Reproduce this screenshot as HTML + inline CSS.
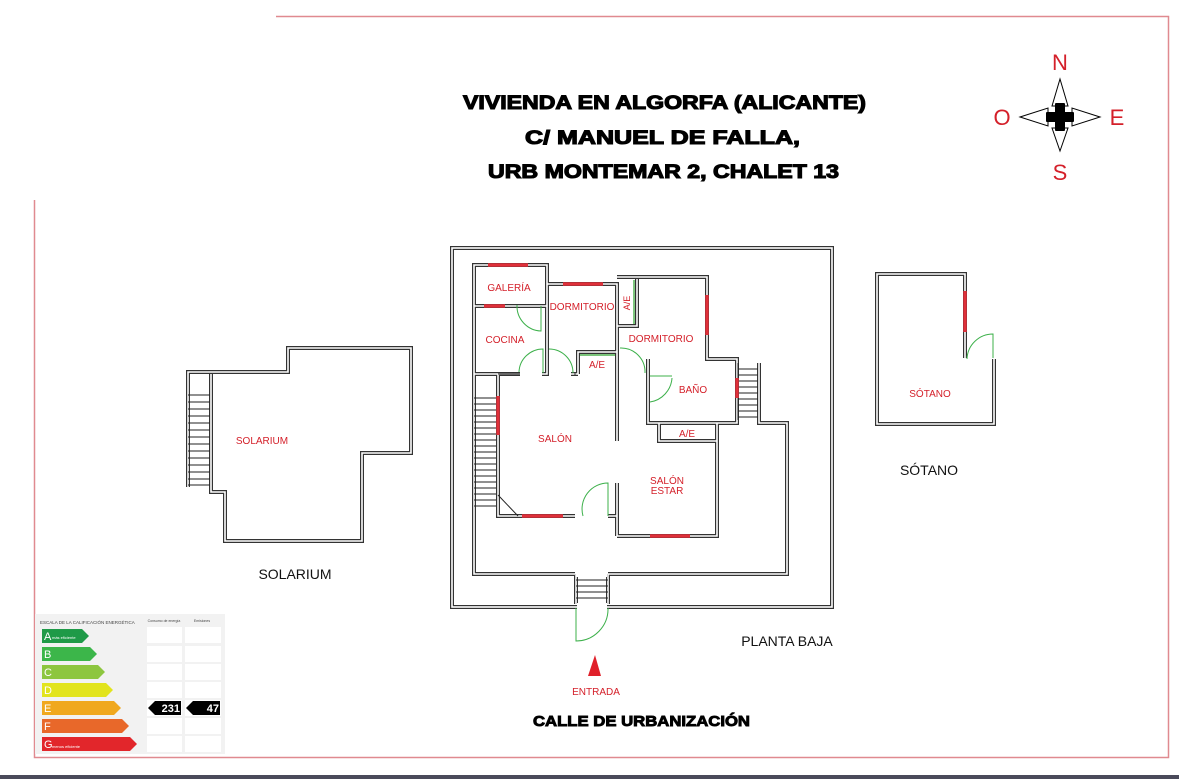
<!DOCTYPE html>
<html><head><meta charset="utf-8"><style>
html,body{margin:0;padding:0;background:#fff;}
svg{display:block;}
.t{font-family:"Liberation Sans",sans-serif;}
.r{font-family:"Liberation Sans",sans-serif;fill:#d4202a;font-size:10px;}
</style></head><body>
<svg width="1179" height="779" viewBox="0 0 1179 779" xmlns="http://www.w3.org/2000/svg">
<rect width="1179" height="779" fill="#fff"/>
<path d="M276 16.5 H1168.5 V757.5 H34.5 V200" fill="none" stroke="#e08a90" stroke-width="1.5"/>
<rect x="0" y="775" width="1179" height="4" fill="#4a4a5a"/>

<g class="t" font-weight="bold" font-size="19" fill="#000" stroke="#000" stroke-width="1.1">
<text x="463" y="109" textLength="403" lengthAdjust="spacingAndGlyphs">VIVIENDA EN ALGORFA (ALICANTE)</text>
<text x="525" y="144" textLength="275" lengthAdjust="spacingAndGlyphs">C/ MANUEL DE FALLA,</text>
<text x="488" y="178" textLength="351" lengthAdjust="spacingAndGlyphs">URB MONTEMAR 2, CHALET 13</text>
</g>

<g class="t" font-size="22" fill="#d4202a" text-anchor="middle">
<text x="1060" y="70">N</text><text x="1002" y="125">O</text><text x="1117" y="125">E</text><text x="1060" y="180">S</text>
</g>
<g fill="#fff" stroke="#000" stroke-width="1">
<path d="M1060 79 L1068 106 L1052 106 Z"/><path d="M1060 151 L1068 128 L1052 128 Z"/>
<path d="M1020 117 L1048 108 L1048 126 Z"/><path d="M1100 117 L1072 108 L1072 126 Z"/>
</g>
<path d="M1056 104 h8 v9 h9 v8 h-9 v9 h-8 v-9 h-9 v-8 h9 z" fill="#000" stroke="#000" stroke-width="2" stroke-linejoin="round"/>

<defs>
<g id="walls">
<rect x="452" y="248" width="380" height="359"/>
<path d="M575 574 H474 V265 H547 V374 H474 M474 306 H547 M547 284 H617 V441 M617 277 H707 V359 H737 V423 H648 V359 M617 326 H637 V279 M578 374 V352 H617 M498 374 V516 H575 M608 516 H617 V483 M617 536 H717 V441 H659 V423 M717 423 V441 M608 574 H787 V423 H759 V363 M617 536 V516 M498 374 H520 M570 374 H578"/>
<path d="M576 574 V604 M608 574 V604"/>
<path d="M188 487 V372 H288 V348 H411 V453 H362 V541 H225 V492 H211 V374"/>
<path d="M965 358 V274 H877 V424 H994 V359"/>
</g>
</defs>
<g fill="none" stroke="#333" stroke-width="4"><use href="#walls"/></g>
<g fill="none" stroke="#fff" stroke-width="1.6"><use href="#walls"/></g>
<rect x="577" y="603" width="30" height="8" fill="#fff"/>
<rect x="576" y="572" width="31" height="5" fill="#fff"/>
<g fill="#fff">
<rect x="576" y="513" width="31" height="6"/>
<rect x="520" y="371" width="22" height="6"/>
<rect x="549" y="371" width="22" height="6"/>
<rect x="614" y="443" width="6" height="38"/>
</g>
<g stroke="#333" stroke-width="1" fill="none">
<path d="M498 374 H520 M575 372 V376"/>
</g>

<g stroke="#222" stroke-width="1">
<path d="M474 398 H496 M474 404 H496 M474 410 H496 M474 416 H496 M474 422 H496 M474 428 H496 M474 434 H496 M474 440 H496 M474 446 H496 M474 452 H496 M474 458 H496 M474 464 H496 M474 470 H496 M474 476 H496 M474 482 H496 M474 488 H496 M474 494 H496 M474 500 H496 M474 506 H496"/>
<path d="M738 363 V420 M738 369 H758 M738 375 H758 M738 381 H758 M738 387 H758 M738 393 H758 M738 399 H758 M738 405 H758 M738 411 H758 M738 417 H758"/>
<path d="M576 580 H608 M576 586 H608 M576 592 H608 M576 598 H608"/>
<path d="M188 395 H210 M188 402 H210 M188 409 H210 M188 416 H210 M188 423 H210 M188 430 H210 M188 437 H210 M188 444 H210 M188 451 H210 M188 458 H210 M188 465 H210 M188 472 H210 M188 479 H210 M188 485 H210"/>
<path d="M498 495 L518 516"/>
</g>

<g stroke="#e0303a" stroke-width="3.5">
<path d="M488 265 H528 M484 306 H505 M563 284 H603 M707 295 V335 M737 378 V398 M498 396 V435 M522 516 H563 M650 536 H690 M965 291 V332"/>
</g>
<g stroke="#2aa02a" stroke-width="1.2" fill="none">
<path d="M634 280 V324 M580 355 H615"/>
</g>
<g stroke="#3cb04a" stroke-width="1" fill="none">
<path d="M517 305 A25 25 0 0 0 541 331 V306"/>
<path d="M519 372 A24 24 0 0 1 543 349 V373"/>
<path d="M549 349 A24 24 0 0 1 573 373"/>
<path d="M620 348 A24 24 0 0 1 645 373"/>
<path d="M650 376 L672 376 M650 402 A26 26 0 0 0 672 378"/>
<path d="M583 516 A26 26 0 0 1 608 483 V516"/>
<path d="M576 608 V641 A32 32 0 0 0 608 608"/>
<path d="M967 359 A26 26 0 0 1 993 334 V358"/>
</g>

<g class="r" text-anchor="middle">
<text x="509" y="291">GALERÍA</text>
<text x="582" y="310">DORMITORIO</text>
<text x="505" y="343">COCINA</text>
<text x="661" y="342">DORMITORIO</text>
<text x="597" y="368">A/E</text>
<text x="693" y="393">BAÑO</text>
<text x="555" y="442">SALÓN</text>
<text x="687" y="437">A/E</text>
<text x="667" y="484">SALÓN</text>
<text x="667" y="494">ESTAR</text>
<text x="262" y="444">SOLARIUM</text>
<text x="930" y="397">SÓTANO</text>
<text x="0" y="0" transform="translate(630 303) rotate(-90)" font-size="9">A/E</text>
</g>

<g class="t" font-size="14" fill="#111" text-anchor="middle">
<text x="295" y="579">SOLARIUM</text>
<text x="929" y="475">SÓTANO</text>
<text x="787" y="646">PLANTA BAJA</text>
</g>
<path d="M595 655 L601 676 H588 Z" fill="#e0202a"/>
<text class="r" x="596" y="695" text-anchor="middle" font-size="11">ENTRADA</text>
<text class="t" x="533" y="726" font-size="15" font-weight="bold" stroke="#000" stroke-width="0.9" textLength="217" lengthAdjust="spacingAndGlyphs">CALLE DE URBANIZACIÓN</text>

<rect x="35" y="614" width="190" height="140" fill="#f2f2f2"/>
<text class="t" x="40" y="624" font-size="4.5" fill="#444">ESCALA DE LA CALIFICACIÓN ENERGÉTICA</text>
<text class="t" x="164" y="622" font-size="3.5" fill="#444" text-anchor="middle">Consumo de energía</text>
<text class="t" x="202" y="622" font-size="3.5" fill="#444" text-anchor="middle">Emisiones</text>
<g fill="#fff">
<rect x="147" y="627" width="35" height="16"/><rect x="185" y="627" width="36" height="16"/>
<rect x="147" y="646" width="35" height="16"/><rect x="185" y="646" width="36" height="16"/>
<rect x="147" y="664" width="35" height="16"/><rect x="185" y="664" width="36" height="16"/>
<rect x="147" y="682" width="35" height="16"/><rect x="185" y="682" width="36" height="16"/>
<rect x="147" y="700" width="35" height="16"/><rect x="185" y="700" width="36" height="16"/>
<rect x="147" y="718" width="35" height="16"/><rect x="185" y="718" width="36" height="16"/>
<rect x="147" y="736" width="35" height="16"/><rect x="185" y="736" width="36" height="16"/>
</g>
<path d="M42 629 H82 L89 636 L82 643 H42 Z" fill="#1f9a48"/>
<path d="M42 647 H90 L97 654 L90 661 H42 Z" fill="#3cb64a"/>
<path d="M42 665 H98 L105 672 L98 679 H42 Z" fill="#8dc63f"/>
<path d="M42 683 H106 L113 690 L106 697 H42 Z" fill="#e2e41d"/>
<path d="M42 701 H114 L121 708 L114 715 H42 Z" fill="#f0a81e"/>
<path d="M42 719 H122 L129 726 L122 733 H42 Z" fill="#e8682a"/>
<path d="M42 737 H130 L137 744 L130 751 H42 Z" fill="#e2262b"/>
<g class="t" fill="#fff" font-size="11">
<text x="44" y="640">A</text><text x="44" y="658">B</text><text x="44" y="676">C</text><text x="44" y="694">D</text><text x="44" y="712">E</text><text x="44" y="730">F</text><text x="44" y="748">G</text>
</g>
<g class="t" fill="#fff" font-size="4">
<text x="52" y="639">más eficiente</text><text x="52" y="748">menos eficiente</text>
</g>
<path d="M155 701 H181 V715 H155 L148 708 Z" fill="#000"/>
<path d="M193 701 H220 V715 H193 L186 708 Z" fill="#000"/>
<g class="t" fill="#fff" font-size="11" font-weight="bold" text-anchor="end">
<text x="180" y="712">231</text><text x="219" y="712">47</text>
</g>
</svg>
</body></html>
